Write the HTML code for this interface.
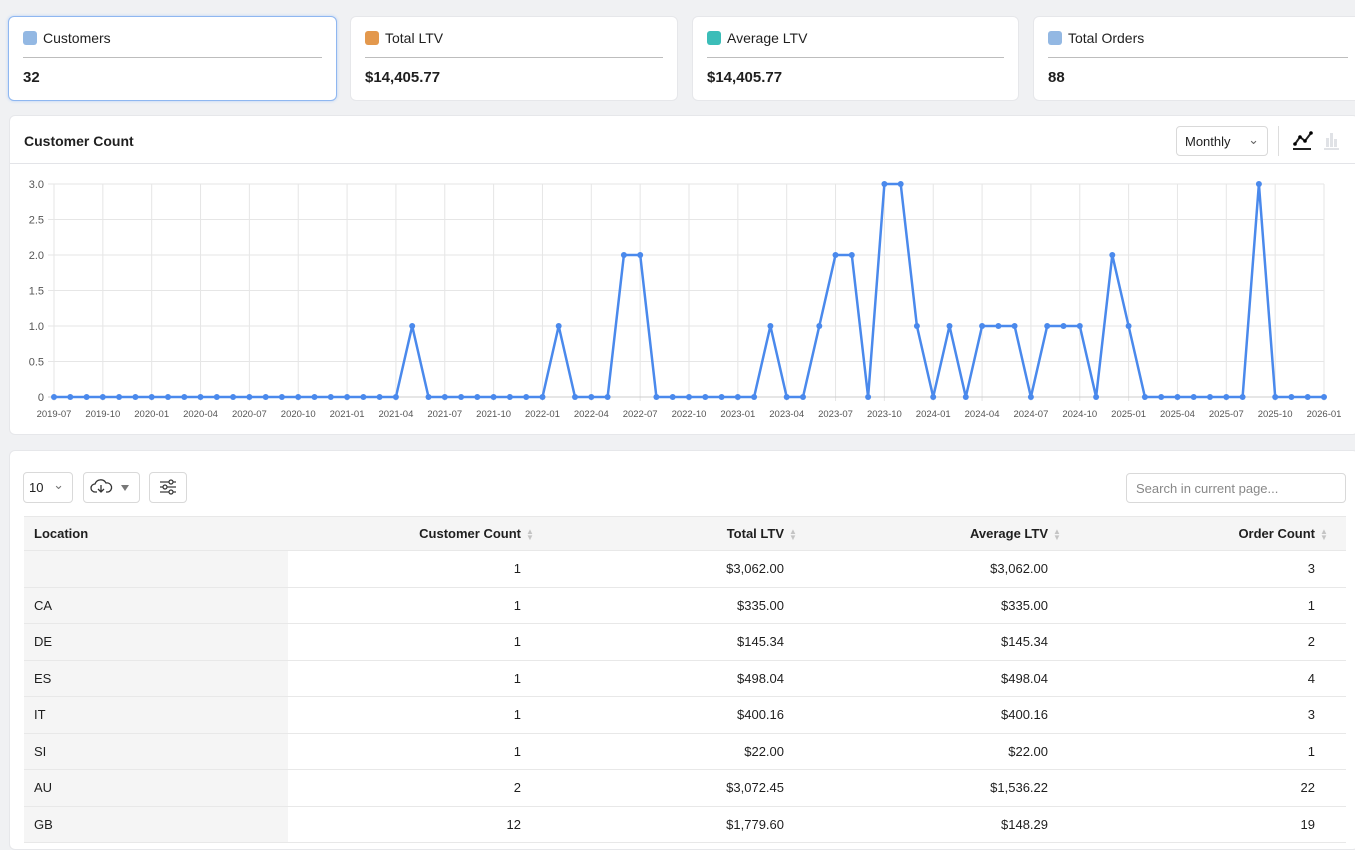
<!DOCTYPE html>
<html><head><meta charset="utf-8"><style>
*{box-sizing:border-box;margin:0;padding:0}
body{width:1355px;height:844px;overflow:hidden;background:#f0f1f3;font-family:"Liberation Sans",sans-serif;color:#1f1f1f;position:relative}
.card{position:absolute;top:16px;height:85px;background:#fff;border-radius:6px;border:1px solid #e6e7ea}
.card .t{position:absolute;left:14px;top:13px;font-size:14px;display:flex;align-items:center;gap:6px}
.card .sq{width:14px;height:14px;border-radius:3px;display:inline-block}
.card .hr{position:absolute;left:14px;right:14px;top:40px;border-top:1px solid #bdbdbd}
.card .v{position:absolute;left:14px;top:52px;font-size:15px;font-weight:bold}
.panel{position:absolute;background:#fff;border-radius:6px;border:1px solid #e6e7ea}
.btn{position:absolute;border:1px solid #d9d9d9;border-radius:4px;background:#fff;font-size:13px}
table{position:absolute;left:24px;top:516px;width:1322px;border-collapse:collapse;font-size:13px;table-layout:fixed}
td,th{height:36.5px;border-bottom:1px solid #e8e8e8;padding:0 10px;text-align:right;white-space:nowrap}
th{background:#f5f5f5;font-weight:bold;height:34px;border-top:1px solid #e8e8e8}
td:first-child,th:first-child{text-align:left;background:#f5f5f5}
td:last-child,th:last-child{padding-right:17px}
.ar{display:inline-block;width:10px;color:#c4c4c4;font-size:8px;line-height:6px;vertical-align:middle;margin-left:4px;text-align:center}
</style></head><body>
<div class="card" style="left:8px;width:329px;border:1px solid #8fb7f0;box-shadow:0 0 3px #b7d1f7"><div class="t"><span class="sq" style="background:#93b8e3"></span>Customers</div><div class="hr"></div><div class="v">32</div></div>
<div class="card" style="left:350px;width:328px"><div class="t"><span class="sq" style="background:#e3984d"></span>Total LTV</div><div class="hr"></div><div class="v">$14,405.77</div></div>
<div class="card" style="left:692px;width:327px"><div class="t"><span class="sq" style="background:#3bbdb8"></span>Average LTV</div><div class="hr"></div><div class="v">$14,405.77</div></div>
<div class="card" style="left:1033px;width:330px"><div class="t"><span class="sq" style="background:#93b8e3"></span>Total Orders</div><div class="hr"></div><div class="v">88</div></div>

<div class="panel" style="left:9px;top:115px;width:1350px;height:320px">
<div style="position:absolute;left:14px;top:17px;font-size:14px;font-weight:bold">Customer Count</div>
<div style="position:absolute;left:0;right:0;top:47px;border-top:1px solid #e3e4e8"></div>
<div class="btn" style="left:1166px;top:10px;width:92px;height:30px;padding:7px 8px;font-size:13px">Monthly<span style="position:absolute;right:8px;top:5px;color:#666">&#8964;</span></div>
<div style="position:absolute;left:1268px;top:10px;height:30px;border-left:1px solid #ddd"></div>
<svg style="position:absolute;left:1282px;top:12px" width="50" height="26"><polyline points="3,16 8,9 13,13 19,5" fill="none" stroke="#222" stroke-width="2"/><circle cx="3" cy="16" r="1.8"/><circle cx="8" cy="9" r="1.8"/><circle cx="13" cy="13" r="1.8"/><circle cx="19" cy="5" r="1.8"/><rect x="1" y="20" width="18" height="2" fill="#222"/><rect x="34" y="10" width="3" height="9" fill="#e0e2e6"/><rect x="38" y="5" width="3" height="14" fill="#e0e2e6"/><rect x="42" y="11" width="3" height="8" fill="#e0e2e6"/><rect x="32" y="20" width="15" height="2" fill="#e0e2e6"/></svg>
</div>
<svg id="ch" style="position:absolute;left:0;top:0" width="1355" height="440"></svg>

<div class="panel" style="left:9px;top:450px;width:1350px;height:400px"></div>
<div class="btn" style="left:23px;top:472px;width:50px;height:31px;padding:7px 5px">10<span style="position:absolute;right:8px;top:4px;color:#777">&#8964;</span></div>
<div class="btn" style="left:83px;top:472px;width:57px;height:31px"><svg width="55" height="29"><path d="M13 19h-2a4 4 0 0 1 0-8 6 6 0 0 1 11-1 4 4 0 0 1 2 9h-2" fill="none" stroke="#333" stroke-width="1.3"/><path d="M17 12v7m-3-3 3 3 3-3" fill="none" stroke="#333" stroke-width="1.3"/><path d="M37 12h8l-4 6z" fill="#777"/></svg></div>
<div class="btn" style="left:149px;top:472px;width:38px;height:31px"><svg width="36" height="29"><g stroke="#333" stroke-width="1.2" fill="#fff"><line x1="10" y1="9" x2="26" y2="9"/><line x1="10" y1="14" x2="26" y2="14"/><line x1="10" y1="19" x2="26" y2="19"/><circle cx="21" cy="9" r="2"/><circle cx="15" cy="14" r="2"/><circle cx="21" cy="19" r="2"/></g></svg></div>
<div class="btn" style="left:1126px;top:473px;width:220px;height:30px;padding:7px 9px;color:#888">Search in current page...</div>
<table>
<colgroup><col style="width:264px"><col style="width:257px"><col style="width:263px"><col style="width:264px"><col style="width:274px"></colgroup>
<tr><th>Location</th><th>Customer Count<span class="ar">▲<br>▼</span></th><th>Total LTV<span class="ar">▲<br>▼</span></th><th>Average LTV<span class="ar">▲<br>▼</span></th><th>Order Count<span class="ar">▲<br>▼</span></th></tr>
<tr><td></td><td>1<span class="ar"></span></td><td>$3,062.00<span class="ar"></span></td><td>$3,062.00<span class="ar"></span></td><td>3<span class="ar"></span></td></tr>
<tr><td>CA</td><td>1<span class="ar"></span></td><td>$335.00<span class="ar"></span></td><td>$335.00<span class="ar"></span></td><td>1<span class="ar"></span></td></tr>
<tr><td>DE</td><td>1<span class="ar"></span></td><td>$145.34<span class="ar"></span></td><td>$145.34<span class="ar"></span></td><td>2<span class="ar"></span></td></tr>
<tr><td>ES</td><td>1<span class="ar"></span></td><td>$498.04<span class="ar"></span></td><td>$498.04<span class="ar"></span></td><td>4<span class="ar"></span></td></tr>
<tr><td>IT</td><td>1<span class="ar"></span></td><td>$400.16<span class="ar"></span></td><td>$400.16<span class="ar"></span></td><td>3<span class="ar"></span></td></tr>
<tr><td>SI</td><td>1<span class="ar"></span></td><td>$22.00<span class="ar"></span></td><td>$22.00<span class="ar"></span></td><td>1<span class="ar"></span></td></tr>
<tr><td>AU</td><td>2<span class="ar"></span></td><td>$3,072.45<span class="ar"></span></td><td>$1,536.22<span class="ar"></span></td><td>22<span class="ar"></span></td></tr>
<tr><td>GB</td><td>12<span class="ar"></span></td><td>$1,779.60<span class="ar"></span></td><td>$148.29<span class="ar"></span></td><td>19<span class="ar"></span></td></tr>
</table>
<script>
var s=document.getElementById('ch'),h='';
var x0=54,st=1270/78,y0=397,u=71;
var d={22:1,31:1,35:2,36:2,44:1,47:1,48:2,49:2,51:3,52:3,53:1,55:1,57:1,58:1,59:1,61:1,62:1,63:1,65:2,66:1,74:3};
for(var k=0;k<=6;k++){var y=y0-k*u/2;h+='<line x1="48" x2="1324" y1="'+y+'" y2="'+y+'" stroke="#e6e6e6"/><text x="44" y="'+(y+4)+'" font-size="11" fill="#555" text-anchor="end" font-family="Liberation Sans">'+(k==0?'0':(k/2).toFixed(1))+'</text>';}
for(var i=0;i<27;i++){var m=7+3*i,yy=2019+Math.floor((m-1)/12),mm=((m-1)%12)+1;var x=x0+i*3*st;
h+='<line x1="'+x+'" x2="'+x+'" y1="184" y2="401" stroke="#e6e6e6"/><text x="'+x+'" y="417" font-size="9.5" fill="#555" text-anchor="middle" font-family="Liberation Sans">'+yy+'-'+(mm<10?'0':'')+mm+'</text>';}
h+='<line x1="1324" x2="1324" y1="184" y2="397" stroke="#e6e6e6"/><line x1="48" x2="1324" y1="397" y2="397" stroke="#ccc"/>';
var p=[],c='';for(var i=0;i<79;i++){var x=x0+i*st,y=y0-(d[i]||0)*u;p.push(x.toFixed(1)+','+y);c+='<circle cx="'+x.toFixed(1)+'" cy="'+y+'" r="3" fill="#4a89ec"/>';}
h+='<polyline points="'+p.join(' ')+'" fill="none" stroke="#4a89ec" stroke-width="2.5" stroke-linejoin="round"/>'+c;
s.innerHTML=h;
</script>
</body></html>
